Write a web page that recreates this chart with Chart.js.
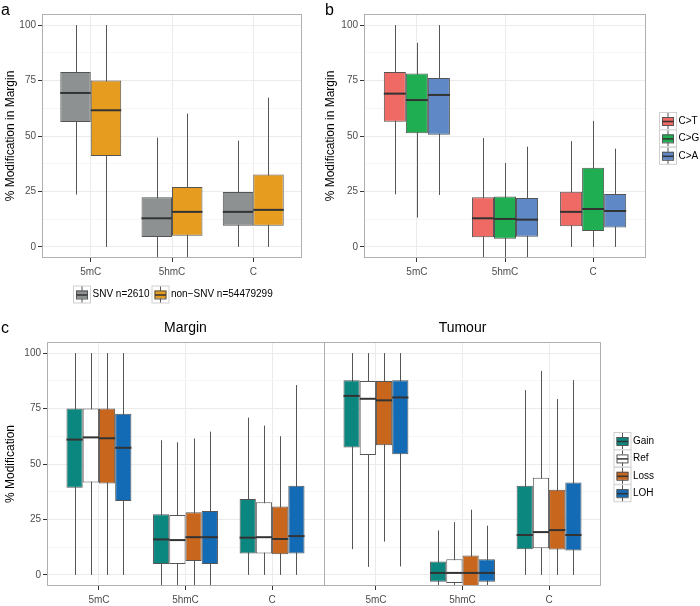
<!DOCTYPE html>
<html>
<head>
<meta charset="utf-8">
<script src="https://cdn.jsdelivr.net/npm/chart.js@4.4.1/dist/chart.umd.min.js"></script>
<style>
  body { margin: 0; background: #fff; }
  #wrap { position: relative; width: 700px; height: 606px; overflow: hidden; }
  canvas { position: absolute; }
</style>
</head>
<body>
<div id="wrap">
  <canvas id="chartA" width="345" height="310" style="left:0;top:0"></canvas>
  <canvas id="chartB" width="380" height="310" style="left:320px;top:0"></canvas>
  <canvas id="chartC" width="700" height="296" style="left:0;top:310px"></canvas>
</div>
<script>
/* =========================
   DATA
   each entry: [lower whisker, Q1, median, Q3, upper whisker]
========================= */
const categories = ['5mC', '5hmC', 'C'];
const facets = ['Margin', 'Tumour'];
const yTicks = [0, 12.5, 25, 37.5, 50, 62.5, 75, 87.5, 100];

// panel a
const snvStats    = [[23.6, 56.3, 69.4, 78.8, 100], [-12, 4.5, 12.9, 22.4, 49.3], [0, 9.5, 15.8, 24.8, 47.9]];
const nonSnvStats = [[0, 41, 61.6, 75, 100],        [-12, 5, 15.8, 27, 60.1],     [0, 9.5, 16.7, 32.6, 67.3]];

// panel b
const ctStats = [[23.7, 56.4, 69.1, 78.8, 100], [-12, 4.4, 12.9, 22.4, 49.1], [0, 9.3, 15.8, 24.9, 47.7]];
const cgStats = [[13.2, 51.2, 66.2, 78.2, 92],  [-12, 3.7, 12.6, 22.7, 37.8], [0, 7.2, 17.1, 35.7, 56.8]];
const caStats = [[23.4, 50.6, 68.5, 76.1, 100], [-12, 4.6, 12.3, 22.1, 45.2], [0, 8.7, 16.2, 23.9, 44.3]];

// panel c (Margin 5mC, 5hmC, C, then Tumour 5mC, 5hmC, C)
const gainStats = [
  [0, 39.3, 61, 75, 100], [-12, 4.9, 16, 27.4, 60.7], [0, 9.6, 16.8, 34.2, 70.9],
  [11.6, 57.4, 80.7, 87.8, 100], [-12, -3.1, 0.9, 6, 20.1], [0, 11.6, 18, 40.2, 83.3]
];
const refStats = [
  [0, 41.7, 62, 75, 100], [-12, 4.9, 15.7, 27, 59.8], [0, 9.6, 17, 32.8, 67.3],
  [3.6, 54.1, 79.4, 87.4, 100], [-12, -3.7, 0.9, 7.1, 23.8], [0, 12, 19.3, 43.8, 92]
];
const lossStats = [
  [0, 41.2, 61.6, 75, 100], [-12, 6.3, 17, 28.3, 61.5], [0, 9.3, 16.2, 30.8, 62.5],
  [15, 58.5, 78.7, 87.4, 100], [-12, -6, 0.9, 8.7, 29.4], [0, 11.4, 20.2, 38.4, 79.3]
];
const lohStats = [
  [0, 33.3, 57.3, 72.7, 100], [-12, 4.9, 17, 28.8, 64.6], [0, 9.6, 17.5, 40.2, 85.6],
  [3.8, 54.4, 80, 87.8, 100], [-12, -3.1, 0.9, 7.1, 22.2], [0, 11, 18, 41.7, 87.8]
];

/* =========================
   DEFAULTS
========================= */
const FONT = '"Liberation Sans", Arial, Helvetica, sans-serif';
Chart.defaults.font.family = FONT;
Chart.defaults.font.size = 10;
Chart.defaults.color = '#4d4d4d';

// legend key that looks like a little boxplot
function drawKey(ctx, x, y, fill) {
  ctx.save();
  ctx.fillStyle = '#fff';
  ctx.fillRect(x, y, 17, 17);
  ctx.strokeStyle = '#d0d0d0';
  ctx.lineWidth = 1;
  ctx.strokeRect(x + 0.5, y + 0.5, 17, 17);

  ctx.strokeStyle = '#555';
  ctx.beginPath();
  ctx.moveTo(x + 9, y + 1);
  ctx.lineTo(x + 9, y + 17);
  ctx.stroke();

  ctx.fillStyle = fill;
  ctx.fillRect(x + 3, y + 5, 12, 8);
  ctx.strokeRect(x + 3.5, y + 5.5, 11, 8);

  ctx.strokeStyle = '#333';
  ctx.lineWidth = 1.5;
  ctx.beginPath();
  ctx.moveTo(x + 3.5, y + 9.5);
  ctx.lineTo(x + 14.5, y + 9.5);
  ctx.stroke();
  ctx.restore();
}

/* =========================
   WHISKERS / MEDIANS / EXTRAS
========================= */
function boxPlugin(cfg) {
  return {
    id: 'boxExtras',

    beforeDatasetsDraw(chart) {
      const { ctx, chartArea, scales: { y } } = chart;
      ctx.save();
      ctx.beginPath();
      ctx.rect(chartArea.left, chartArea.top, chartArea.right - chartArea.left, chartArea.bottom - chartArea.top);
      ctx.clip();
      ctx.strokeStyle = '#555';
      ctx.lineWidth = 1;
      chart.data.datasets.forEach((ds, di) => {
        chart.getDatasetMeta(di).data.forEach((bar, i) => {
          const s = ds.stats[i];
          const px = Math.round(bar.x) + 0.5;
          ctx.beginPath();
          ctx.moveTo(px, y.getPixelForValue(s[0]));
          ctx.lineTo(px, y.getPixelForValue(s[4]));
          ctx.stroke();
        });
      });
      ctx.restore();
    },

    afterDatasetsDraw(chart) {
      const { ctx, chartArea, scales: { y } } = chart;
      ctx.save();
      ctx.beginPath();
      ctx.rect(chartArea.left, chartArea.top, chartArea.right - chartArea.left, chartArea.bottom - chartArea.top);
      ctx.clip();
      ctx.strokeStyle = '#333';
      ctx.lineWidth = 2;
      chart.data.datasets.forEach((ds, di) => {
        chart.getDatasetMeta(di).data.forEach((bar, i) => {
          const py = y.getPixelForValue(ds.stats[i][2]);
          ctx.beginPath();
          ctx.moveTo(bar.x - bar.width / 2, py);
          ctx.lineTo(bar.x + bar.width / 2, py);
          ctx.stroke();
        });
      });
      ctx.restore();
    },

    afterDraw(chart) {
      const { ctx, chartArea, scales: { x } } = chart;
      ctx.save();

      // panel border (+ facet divider)
      ctx.strokeStyle = '#b0b0b0';
      ctx.lineWidth = 1;
      ctx.strokeRect(Math.round(chartArea.left) + 0.5, Math.round(chartArea.top) + 0.5,
        Math.round(chartArea.right - chartArea.left) - 1, Math.round(chartArea.bottom - chartArea.top) - 1);
      (cfg.dividers || []).forEach(v => {
        const px = Math.round(x.getPixelForValue(v)) + 0.5;
        ctx.beginPath();
        ctx.moveTo(px, chartArea.top);
        ctx.lineTo(px, chartArea.bottom);
        ctx.stroke();
      });

      // panel letter
      ctx.fillStyle = '#000';
      ctx.font = '16px ' + FONT;
      ctx.textAlign = 'left';
      ctx.textBaseline = 'alphabetic';
      ctx.fillText(cfg.letter.text, cfg.letter.x, cfg.letter.y);

      // facet strip titles
      ctx.font = '14px ' + FONT;
      ctx.textAlign = 'center';
      (cfg.facetTitles || []).forEach(f => {
        ctx.fillText(f.text, x.getPixelForValue(f.at), cfg.facetY);
      });

      // legend
      const lg = cfg.legend;
      ctx.font = '10px ' + FONT;
      ctx.textAlign = 'left';
      ctx.textBaseline = 'middle';
      let lx = lg.x;
      let ly = lg.y;
      lg.items.forEach(it => {
        drawKey(ctx, lx, ly, it.color);
        ctx.fillStyle = '#000';
        ctx.fillText(it.text, lx + 19.5, ly + 9);
        if (lg.row) {
          lx += 19.5 + ctx.measureText(it.text).width + 2;
        } else {
          ly += 17.4;
        }
      });

      ctx.restore();
    }
  };
}

/* =========================
   BUILD ONE BOX CHART
========================= */
function boxChart(id, cfg) {
  const xPos = cfg.xPos;

  return new Chart(document.getElementById(id), {
    type: 'bar',
    data: {
      datasets: cfg.series.map(s => ({
        label: s.name,
        stats: s.stats,
        data: s.stats.map((v, i) => ({ x: xPos[i], y: [v[1], v[3]] })),
        backgroundColor: s.color,
        borderColor: '#555',
        borderWidth: 1,
        borderSkipped: false,
        inflateAmount: 0,
        categoryPercentage: 0.75,
        barPercentage: 1
      }))
    },

    options: {
      responsive: false,
      animation: false,
      events: [],
      layout: { padding: cfg.padding },

      plugins: {
        legend: { display: false },
        tooltip: { enabled: false }
      },

      scales: {
        x: {
          type: 'linear',
          min: 0.4,
          max: cfg.xMax,
          offset: false,
          afterBuildTicks: s => { s.ticks = xPos.map(v => ({ value: v })); },
          afterFit: s => {
            s.height = cfg.xHeight;
            s.paddingLeft = 0;
            s.paddingRight = 0;
          },
          border: { display: false },
          grid: {
            offset: false,
            color: '#ebebeb',
            tickColor: '#333',
            tickLength: 4
          },
          ticks: {
            autoSkip: false,
            maxRotation: 0,
            padding: 4,
            color: '#4d4d4d',
            callback: (v, i) => cfg.xLabels[i]
          }
        },

        y: {
          min: -5,
          max: 105,
          afterBuildTicks: s => { s.ticks = yTicks.map(v => ({ value: v })); },
          afterFit: s => {
            s.width = cfg.yWidth;
            s.paddingTop = 0;
            s.paddingBottom = 0;
          },
          border: { display: false },
          grid: {
            color: c => (c.tick && c.tick.value % 25 === 0) ? '#ebebeb' : '#f6f6f6',
            tickColor: c => (c.tick && c.tick.value % 25 === 0) ? '#333' : 'rgba(0,0,0,0)',
            tickLength: 4
          },
          ticks: {
            autoSkip: false,
            padding: 2,
            color: '#4d4d4d',
            callback: v => (v % 25 === 0 ? String(v) : '')
          },
          title: {
            display: true,
            text: cfg.yTitle,
            color: '#000',
            font: { size: 12 },
            padding: { top: 3, bottom: 0 }
          }
        }
      }
    },

    plugins: [boxPlugin(cfg)]
  });
}

/* =========================
   PANEL A
========================= */
boxChart('chartA', {
  xPos: [1, 2, 3],
  xLabels: categories,
  xMax: 3.6,
  yWidth: 42,
  xHeight: 52,
  padding: { left: 0, top: 14, right: 43, bottom: 0 },
  yTitle: '% Modification in Margin',
  letter: { text: 'a', x: 1, y: 15 },
  series: [
    { name: 'SNV n=2610', stats: snvStats, color: '#8d9192' },
    { name: 'non−SNV n=54479299', stats: nonSnvStats, color: '#e59c1f' }
  ],
  legend: {
    row: true, x: 73, y: 285.5,
    items: [
      { text: 'SNV n=2610', color: '#8d9192' },
      { text: 'non−SNV n=54479299', color: '#e59c1f' }
    ]
  }
});

/* =========================
   PANEL B
========================= */
boxChart('chartB', {
  xPos: [1, 2, 3],
  xLabels: categories,
  xMax: 3.6,
  yWidth: 44,
  xHeight: 52,
  padding: { left: 0, top: 14, right: 54, bottom: 0 },
  yTitle: '% Modification in Margin',
  letter: { text: 'b', x: 5, y: 15 },
  series: [
    { name: 'C>T', stats: ctStats, color: '#ef6a64' },
    { name: 'C>G', stats: cgStats, color: '#1fae52' },
    { name: 'C>A', stats: caStats, color: '#5e88c6' }
  ],
  legend: {
    row: false, x: 339, y: 112,
    items: [
      { text: 'C>T', color: '#ef6a64' },
      { text: 'C>G', color: '#1fae52' },
      { text: 'C>A', color: '#5e88c6' }
    ]
  }
});

/* =========================
   PANEL C (two facets side by side)
========================= */
const facetPos = [];
facets.forEach((f, fi) => categories.forEach((c, ci) => facetPos.push(fi * 3.2 + ci + 1)));

boxChart('chartC', {
  xPos: facetPos,
  xLabels: facets.flatMap(() => categories),
  xMax: 6.8,
  yWidth: 47,
  xHeight: 20,
  padding: { left: 0, top: 32, right: 99, bottom: 0 },
  yTitle: '% Modification',
  letter: { text: 'c', x: 1, y: 23 },
  dividers: [3.6],
  facetY: 21.5,
  facetTitles: facets.map((f, fi) => ({ text: f, at: fi * 3.2 + 2 })),
  series: [
    { name: 'Gain', stats: gainStats, color: '#0b877f' },
    { name: 'Ref', stats: refStats, color: '#ffffff' },
    { name: 'Loss', stats: lossStats, color: '#c8661e' },
    { name: 'LOH', stats: lohStats, color: '#146bb5' }
  ],
  legend: {
    row: false, x: 613.5, y: 122,
    items: [
      { text: 'Gain', color: '#0b877f' },
      { text: 'Ref', color: '#ffffff' },
      { text: 'Loss', color: '#c8661e' },
      { text: 'LOH', color: '#146bb5' }
    ]
  }
});
</script>
</body>
</html>
